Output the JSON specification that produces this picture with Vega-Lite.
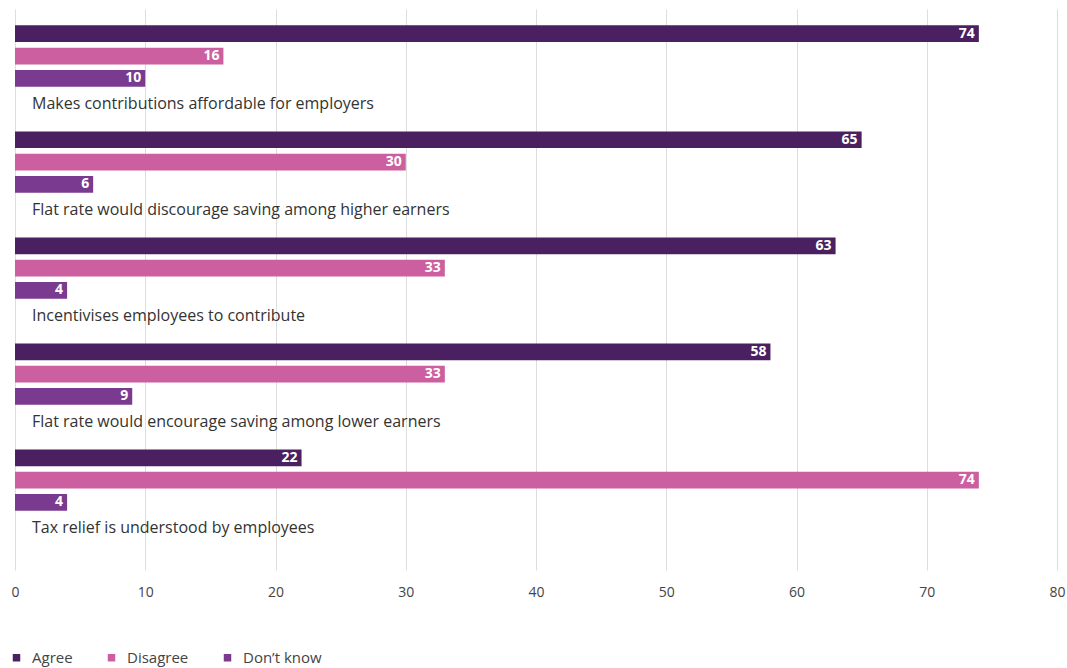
{
  "$schema": "https://vega.github.io/schema/vega-lite/v6.json",
  "width": 1042,
  "height": 561,
  "autosize": {"type": "none"},
  "padding": {"left": 15, "top": 9, "right": 10, "bottom": 98},
  "background": "white",
  "config": {
    "view": {"stroke": null},
    "font": "Open Sans"
  },
  "data": {
    "values": [
      {"question": "Makes contributions affordable for employers", "series": "Agree", "value": 74},
      {"question": "Makes contributions affordable for employers", "series": "Disagree", "value": 16},
      {"question": "Makes contributions affordable for employers", "series": "Don’t know", "value": 10},
      {"question": "Flat rate would discourage saving among higher earners", "series": "Agree", "value": 65},
      {"question": "Flat rate would discourage saving among higher earners", "series": "Disagree", "value": 30},
      {"question": "Flat rate would discourage saving among higher earners", "series": "Don’t know", "value": 6},
      {"question": "Incentivises employees to contribute", "series": "Agree", "value": 63},
      {"question": "Incentivises employees to contribute", "series": "Disagree", "value": 33},
      {"question": "Incentivises employees to contribute", "series": "Don’t know", "value": 4},
      {"question": "Flat rate would encourage saving among lower earners", "series": "Agree", "value": 58},
      {"question": "Flat rate would encourage saving among lower earners", "series": "Disagree", "value": 33},
      {"question": "Flat rate would encourage saving among lower earners", "series": "Don’t know", "value": 9},
      {"question": "Tax relief is understood by employees", "series": "Agree", "value": 22},
      {"question": "Tax relief is understood by employees", "series": "Disagree", "value": 74},
      {"question": "Tax relief is understood by employees", "series": "Don’t know", "value": 4}
    ]
  },
  "encoding": {
    "y": {
      "field": "question",
      "type": "nominal",
      "sort": null,
      "axis": null,
      "scale": {"paddingInner": 0, "paddingOuter": 0.146}
    },
    "yOffset": {
      "field": "series",
      "type": "nominal",
      "sort": ["Agree", "Disagree", "Don’t know"],
      "scale": {"paddingInner": 0.25, "paddingOuter": 1.143, "align": 0.02}
    }
  },
  "layer": [
    {
      "mark": {"type": "bar"},
      "encoding": {
        "x": {
          "field": "value",
          "type": "quantitative",
          "scale": {"domain": [0, 80]},
          "axis": {
            "title": null,
            "values": [0, 10, 20, 30, 40, 50, 60, 70, 80],
            "grid": true,
            "gridColor": "#dddddd",
            "gridWidth": 1,
            "domain": false,
            "ticks": false,
            "labelPadding": 15,
            "labelFontSize": 14,
            "labelColor": "#444444",
            "labelFont": "Open Sans",
            "labelFlush": false,
            "labelOverlap": false
          }
        },
        "color": {
          "field": "series",
          "type": "nominal",
          "sort": ["Agree", "Disagree", "Don’t know"],
          "scale": {
            "domain": ["Agree", "Disagree", "Don’t know"],
            "range": ["#4b2060", "#cc5f9f", "#7a3a90"]
          },
          "legend": {
            "title": null,
            "orient": "none",
            "legendX": -6,
            "legendY": 641,
            "direction": "horizontal",
            "padding": 0,
            "symbolType": "square",
            "symbolSize": 56,
            "labelFontSize": 15,
            "labelColor": "#444444",
            "labelFont": "Open Sans",
            "columnPadding": 31,
            "labelOffset": 8
          }
        }
      }
    },
    {
      "mark": {"type": "text", "align": "right", "baseline": "middle", "dx": -4, "color": "white", "fontWeight": "bold", "fontSize": 14},
      "encoding": {
        "x": {"field": "value", "type": "quantitative"},
        "text": {"field": "value", "type": "quantitative"}
      }
    },
    {
      "transform": [{"filter": "datum.series === 'Don’t know'"}],
      "mark": {"type": "text", "align": "left", "baseline": "middle", "dx": 17, "dy": 26, "color": "#333333", "fontSize": 16},
      "encoding": {
        "x": {"datum": 0},
        "text": {"field": "question", "type": "nominal"}
      }
    }
  ]
}
